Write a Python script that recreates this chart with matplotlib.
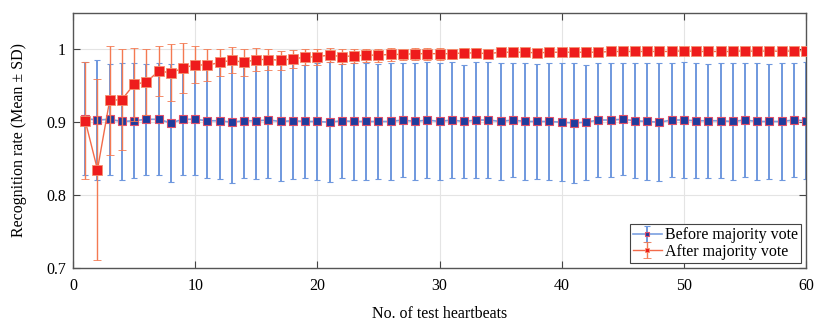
import numpy as np
import matplotlib.pyplot as plt

plt.rcParams['font.family'] = ['Liberation Serif', 'DejaVu Serif']

n_beats = list(range(1, 61))

before_mean = [0.905, 0.903, 0.904, 0.901, 0.902, 0.904, 0.904, 0.899, 0.904, 0.904,
               0.902, 0.902, 0.900, 0.902, 0.902, 0.903, 0.901, 0.902, 0.901, 0.901,
               0.900, 0.902, 0.901, 0.901, 0.901, 0.901, 0.903, 0.901, 0.903, 0.901,
               0.903, 0.901, 0.903, 0.903, 0.901, 0.903, 0.901, 0.901, 0.901, 0.900,
               0.899, 0.900, 0.903, 0.903, 0.904, 0.902, 0.901, 0.900, 0.903, 0.903,
               0.902, 0.902, 0.902, 0.901, 0.903, 0.901, 0.901, 0.901, 0.903, 0.902]
before_sd = [0.077, 0.082, 0.076, 0.080, 0.079, 0.076, 0.077, 0.081, 0.076, 0.077,
             0.079, 0.080, 0.083, 0.079, 0.080, 0.079, 0.081, 0.080, 0.078, 0.080,
             0.082, 0.078, 0.080, 0.080, 0.079, 0.080, 0.078, 0.080, 0.079, 0.080,
             0.079, 0.078, 0.080, 0.079, 0.080, 0.078, 0.080, 0.079, 0.080, 0.081,
             0.082, 0.079, 0.078, 0.078, 0.077, 0.079, 0.080, 0.081, 0.078, 0.079,
             0.079, 0.078, 0.079, 0.080, 0.078, 0.080, 0.079, 0.080, 0.078, 0.080]

after_mean = [0.902, 0.835, 0.930, 0.931, 0.952, 0.955, 0.970, 0.968, 0.974, 0.979,
              0.978, 0.982, 0.985, 0.982, 0.986, 0.986, 0.985, 0.987, 0.989, 0.990,
              0.992, 0.990, 0.991, 0.992, 0.992, 0.993, 0.993, 0.994, 0.994, 0.994,
              0.994, 0.995, 0.995, 0.994, 0.996, 0.996, 0.996, 0.995, 0.996, 0.996,
              0.996, 0.996, 0.996, 0.997, 0.997, 0.997, 0.997, 0.997, 0.997, 0.998,
              0.997, 0.997, 0.997, 0.997, 0.998, 0.997, 0.998, 0.997, 0.998, 0.998]
after_sd = [0.080, 0.124, 0.075, 0.069, 0.050, 0.045, 0.034, 0.039, 0.034, 0.025,
            0.022, 0.019, 0.018, 0.018, 0.016, 0.015, 0.013, 0.012, 0.011, 0.011,
            0.010, 0.010, 0.010, 0.009, 0.009, 0.009, 0.008, 0.008, 0.008, 0.008,
            0.007, 0.007, 0.007, 0.006, 0.006, 0.006, 0.006, 0.006, 0.005, 0.005,
            0.005, 0.007, 0.005, 0.005, 0.004, 0.005, 0.004, 0.004, 0.004, 0.004,
            0.003, 0.004, 0.003, 0.004, 0.003, 0.003, 0.003, 0.004, 0.003, 0.003]

fig = plt.figure(figsize=(8.15, 3.21), dpi=100)
ax = fig.add_axes([0.0896, 0.165, 0.8994, 0.795])

ax.errorbar(n_beats, before_mean, yerr=before_sd, color='#7aa0e0', lw=1.2,
            ecolor='#6f98de', elinewidth=1.4, capsize=2.5, capthick=1.4,
            marker='s', markersize=5.5, markerfacecolor='#1f3c9c',
            markeredgecolor='#e0506a', markeredgewidth=0.8,
            label='Before majority vote', zorder=2)
ax.errorbar(n_beats, after_mean, yerr=after_sd, color='#f26a4a', lw=1.0,
            ecolor='#f47a52', elinewidth=1.0, capsize=3, capthick=1.0,
            marker='s', markersize=6.5, markerfacecolor='#ee1c1c',
            markeredgecolor='#f59070', markeredgewidth=0.6,
            label='After majority vote', zorder=3)

ax.set_xlim(0, 60)
ax.set_ylim(0.7, 1.05)
ax.set_xticks(range(0, 61, 10))
ax.set_yticks([0.7, 0.8, 0.9, 1.0])
ax.set_yticklabels(['0.7', '0.8', '0.9', '1'])
ax.grid(True, color='#e4e4e4', lw=0.8)
ax.set_axisbelow(True)
ax.tick_params(direction='in', top=True, right=True, labelsize=11.5, length=5,
               color='#444444')
ax.tick_params(axis='x', pad=7)
ax.tick_params(axis='y', pad=5)
for s in ax.spines.values():
    s.set_color('#555555')
    s.set_linewidth(1.0)

ax.set_xlabel('No. of test heartbeats', fontsize=11.5, labelpad=9)
ax.set_ylabel('Recognition rate (Mean \u00b1 SD)', fontsize=11.5, labelpad=14)

leg = ax.legend(loc='lower right', fontsize=11.5, fancybox=False, framealpha=1,
                edgecolor='#444444', handlelength=1.8, borderpad=0.2,
                labelspacing=0.05, handletextpad=0.2, borderaxespad=0.3,
                markerscale=0.5)
leg.get_frame().set_linewidth(0.8)

plt.savefig('out.png', dpi=100)
